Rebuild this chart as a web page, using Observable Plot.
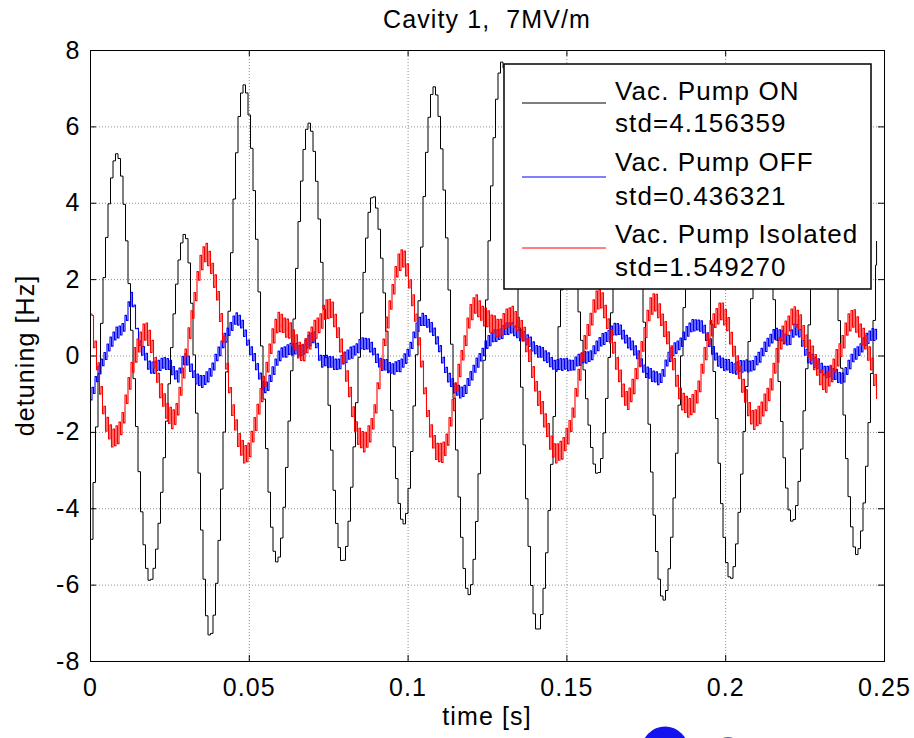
<!DOCTYPE html>
<html><head><meta charset="utf-8">
<script src="https://cdn.jsdelivr.net/npm/d3@7"></script>
<script src="https://cdn.jsdelivr.net/npm/@observablehq/plot@0.6"></script>
<style>
body{margin:0;background:#fff}
svg text{letter-spacing:1.1px}
</style>
</head><body><div id="chart"></div>
<script>
// ---- data ----
const titleText = "Cavity 1,  7MV/m";
const xLabel = "time [s]";
const yLabel = "detuning [Hz]";
const xTicks = [0, 0.05, 0.1, 0.15, 0.2, 0.25];
const yTicks = [-8, -6, -4, -2, 0, 2, 4, 6, 8];

const seriesNames = ["Vac. Pump ON", "Vac. Pump OFF", "Vac. Pump Isolated"];
const seriesStd = ["std=4.156359", "std=0.436321", "std=1.549270"];
const seriesColors = ["#000000", "#0000ff", "#ff0000"];

// Vac. Pump ON (black): extremes of the oscillation
const blackT = [0, 0.0080, 0.0184, 0.0294, 0.0373, 0.0480, 0.0584, 0.0684, 0.0791, 0.0886, 0.0983, 0.1078, 0.1188, 0.1292, 0.1405, 0.1501, 0.1594, 0.1688, 0.1801, 0.1907, 0.2012, 0.2113, 0.2207, 0.2308, 0.2409, 0.2475];
const blackV = [-4.8, 5.3, -5.9, 3.2, -7.35, 7.1, -5.4, 6.1, -5.4, 4.2, -4.4, 7.05, -6.25, 7.7, -7.2, 3.0, -3.1, 6.5, -6.4, 5.2, -5.85, 4.3, -4.35, 5.5, -5.2, 3.0];

// Vac. Pump OFF (blue)
const blueT = [0, 0.0033, 0.0074, 0.0112, 0.0127, 0.0149, 0.0168, 0.0190, 0.0212, 0.0244, 0.0275, 0.0294, 0.0348, 0.0401, 0.0458, 0.0514, 0.0546, 0.0609, 0.0653, 0.0703, 0.0725, 0.0766, 0.0810, 0.0851, 0.0882, 0.0914, 0.0968, 0.1049, 0.1159, 0.1251, 0.1323, 0.1386, 0.1480, 0.1565, 0.1654, 0.1710, 0.1754, 0.1786, 0.1817, 0.1858, 0.1912, 0.1952, 0.1993, 0.2047, 0.2100, 0.2151, 0.2195, 0.2220, 0.2258, 0.2299, 0.2362, 0.2403, 0.2446, 0.2475];
const blueV = [-1.15, -0.2, 0.5, 1.0, 1.5, 0.5, 0.05, -0.35, -0.2, -0.25, -0.5, -0.1, -0.7, 0.05, 0.95, -0.1, -0.8, 0.15, 0.15, 0.45, -0.1, -0.2, 0.0, 0.3, 0.25, -0.25, -0.3, 0.95, -0.95, 0.35, 0.7, 0.3, -0.25, 0.0, 0.68, 0.15, -0.45, -0.6, -0.1, 0.4, 0.85, 0.25, -0.25, -0.3, -0.1, 0.55, 0.45, 0.68, 0.0, -0.3, -0.55, 0.0, 0.45, 0.6];

// Vac. Pump Isolated (red)
const redT = [0, 0.0024, 0.0071, 0.0168, 0.0253, 0.0363, 0.0483, 0.0599, 0.0662, 0.0750, 0.0860, 0.0980, 0.1096, 0.1213, 0.1270, 0.1329, 0.1474, 0.1600, 0.1691, 0.1773, 0.1883, 0.1978, 0.2094, 0.2210, 0.2315, 0.2399, 0.2475];
const redV = [1.1, -0.5, -2.2, 0.6, -1.65, 2.65, -2.55, 0.9, 0.15, 1.2, -2.3, 2.5, -2.6, 1.3, 0.75, 1.0, -2.55, 1.45, -1.1, 1.35, -1.4, 1.15, -1.65, 1.0, -0.65, 0.92, -0.85];

// high-frequency ripple half-amplitude (Hz) seen on each trace
const rippleHz = [0, 0.18, 0.3];

// ---- layout ----
const W = 914, H = 738, mL = 90, mR = 30, mT = 50, mB = 77;
const plotW = W - mL - mR, plotH = H - mT - mB;
const pxPerHz = plotH / 16;

// sampled (sample-and-hold) drawing of a monotone curve through the points
function sampledCurve(stepPx, ripplePx) {
  const pattern = [1, 0.7, 0.95, 0.55, 1, 0.85, 0.65, 0.9, 0.5, 1, 0.8, 0.6];
  return function(context) {
    let xs, ys;
    return {
      areaStart() {}, areaEnd() {},
      lineStart() { xs = []; ys = []; },
      point(x, y) { xs.push(+x); ys.push(+y); },
      lineEnd() {
        const n = xs.length;
        if (!n) return;
        const m = new Array(n).fill(0);
        for (let i = 1; i < n - 1; i++) {
          const h0 = xs[i] - xs[i-1], h1 = xs[i+1] - xs[i];
          const s0 = (ys[i] - ys[i-1]) / h0, s1 = (ys[i+1] - ys[i]) / h1;
          const p = (s0 * h1 + s1 * h0) / (h0 + h1);
          m[i] = (Math.sign(s0) + Math.sign(s1)) * Math.min(Math.abs(s0), Math.abs(s1), 0.5 * Math.abs(p)) || 0;
        }
        if (n > 1) {
          const h = xs[1] - xs[0];
          m[0] = (3 * (ys[1] - ys[0]) / h - m[1]) / 2;
          const hn = xs[n-1] - xs[n-2];
          m[n-1] = (3 * (ys[n-1] - ys[n-2]) / hn - m[n-2]) / 2;
        }
        let j = 0;
        const yAt = (x) => {
          while (j < n - 2 && x > xs[j+1]) j++;
          const x0 = xs[j], x1 = xs[j+1], h = x1 - x0;
          const u = Math.max(0, Math.min(1, (x - x0) / h));
          const u2 = u*u, u3 = u2*u;
          return (2*u3 - 3*u2 + 1) * ys[j] + (u3 - 2*u2 + u) * h * m[j] + (-2*u3 + 3*u2) * ys[j+1] + (u3 - u2) * h * m[j+1];
        };
        let x = xs[0], prev = ys[0], k = 0;
        context.moveTo(x, prev);
        if (n < 2) return;
        while (x < xs[n-1] - 1e-6) {
          x = Math.min(x + stepPx, xs[n-1]);
          let y = yAt(x);
          if (ripplePx) y += (k % 2 ? 1 : -1) * ripplePx * pattern[k % pattern.length];
          context.lineTo(x, prev);
          context.lineTo(x, y);
          prev = y; k++;
        }
      }
    };
  };
}

const toRows = (T, V) => T.map((t, i) => ({t, v: V[i]}));
const black = toRows(blackT, blackV);
const blue = toRows(blueT, blueV);
const red = toRows(redT, redV);

const grid = {stroke: "#707070", strokeWidth: 0.8, strokeDasharray: "1,2"};
const tk = {stroke: "#000", strokeWidth: 1};

const chart = Plot.plot({
  width: W, height: H,
  marginLeft: mL, marginRight: mR, marginTop: mT, marginBottom: mB,
  style: {fontFamily: "'Liberation Sans', Arial, sans-serif", fontSize: "25px", color: "#000", background: "#fff", overflow: "hidden"},
  x: {domain: [0, 0.25], ticks: xTicks, tickFormat: d => String(d), tickSize: 0, tickPadding: 17, label: null},
  y: {domain: [-8, 8], ticks: yTicks, tickFormat: d => String(d), tickSize: 0, tickPadding: 10, label: null},
  marks: [
    Plot.ruleX(xTicks, {x: d => d, ...grid}),
    Plot.ruleY(yTicks, {y: d => d, ...grid}),
    Plot.line(black, {x: "t", y: "v", stroke: seriesColors[0], strokeWidth: 1, curve: sampledCurve(2.5, rippleHz[0] * pxPerHz)}),
    Plot.line(blue, {x: "t", y: "v", stroke: seriesColors[1], strokeWidth: 1.1, curve: sampledCurve(1.5, rippleHz[1] * pxPerHz)}),
    Plot.line(red, {x: "t", y: "v", stroke: seriesColors[2], strokeWidth: 1.1, curve: sampledCurve(1.5, rippleHz[2] * pxPerHz)}),
    Plot.tickY(yTicks, {y: d => d, insetRight: plotW - 6, ...tk}),
    Plot.tickY(yTicks, {y: d => d, insetLeft: plotW - 6, ...tk}),
    Plot.tickX(xTicks, {x: d => d, insetTop: plotH - 6, ...tk}),
    Plot.tickX(xTicks, {x: d => d, insetBottom: plotH - 6, ...tk}),
    Plot.frame({stroke: "#000", strokeWidth: 1})
  ]
});

document.getElementById("chart").appendChild(chart);
const svg = d3.select(chart);

// title and axis labels
svg.append("text").attr("x", mL + plotW / 2).attr("y", 28).attr("text-anchor", "middle")
  .attr("font-size", 25).attr("fill", "#000").text(titleText);
svg.append("text").attr("x", mL + plotW / 2).attr("y", 725).attr("text-anchor", "middle")
  .attr("font-size", 25).attr("fill", "#000").text(xLabel);
svg.append("text").attr("transform", `translate(34,${mT + plotH / 2}) rotate(-90)`).attr("text-anchor", "middle")
  .attr("font-size", 25).attr("fill", "#000").text(yLabel);

// legend
const lg = svg.append("g");
lg.append("rect").attr("x", 504).attr("y", 64).attr("width", 367).attr("height", 225)
  .attr("fill", "#fff").attr("stroke", "#000").attr("stroke-width", 1.5);
const sampleY = [103, 177, 248];
const nameY = [100, 171, 243];
const stdY = [132, 205, 276];
seriesNames.forEach((name, i) => {
  lg.append("line").attr("x1", 522).attr("x2", 606).attr("y1", sampleY[i]).attr("y2", sampleY[i])
    .attr("stroke", seriesColors[i]).attr("stroke-width", 1);
  lg.append("text").attr("x", 615).attr("y", nameY[i]).attr("font-size", 26).attr("fill", "#000").attr("text-anchor", "start").text(name);
  lg.append("text").attr("x", 615).attr("y", stdY[i]).attr("font-size", 26).attr("fill", "#000").attr("text-anchor", "start").text(seriesStd[i]);
});

// partially visible logo at the bottom edge
svg.append("circle").attr("cx", 665).attr("cy", 750).attr("r", 23.5).attr("fill", "#1414f0");
svg.append("circle").attr("cx", 728).attr("cy", 750).attr("r", 13).attr("fill", "#5050ff");
</script>
</body></html>
